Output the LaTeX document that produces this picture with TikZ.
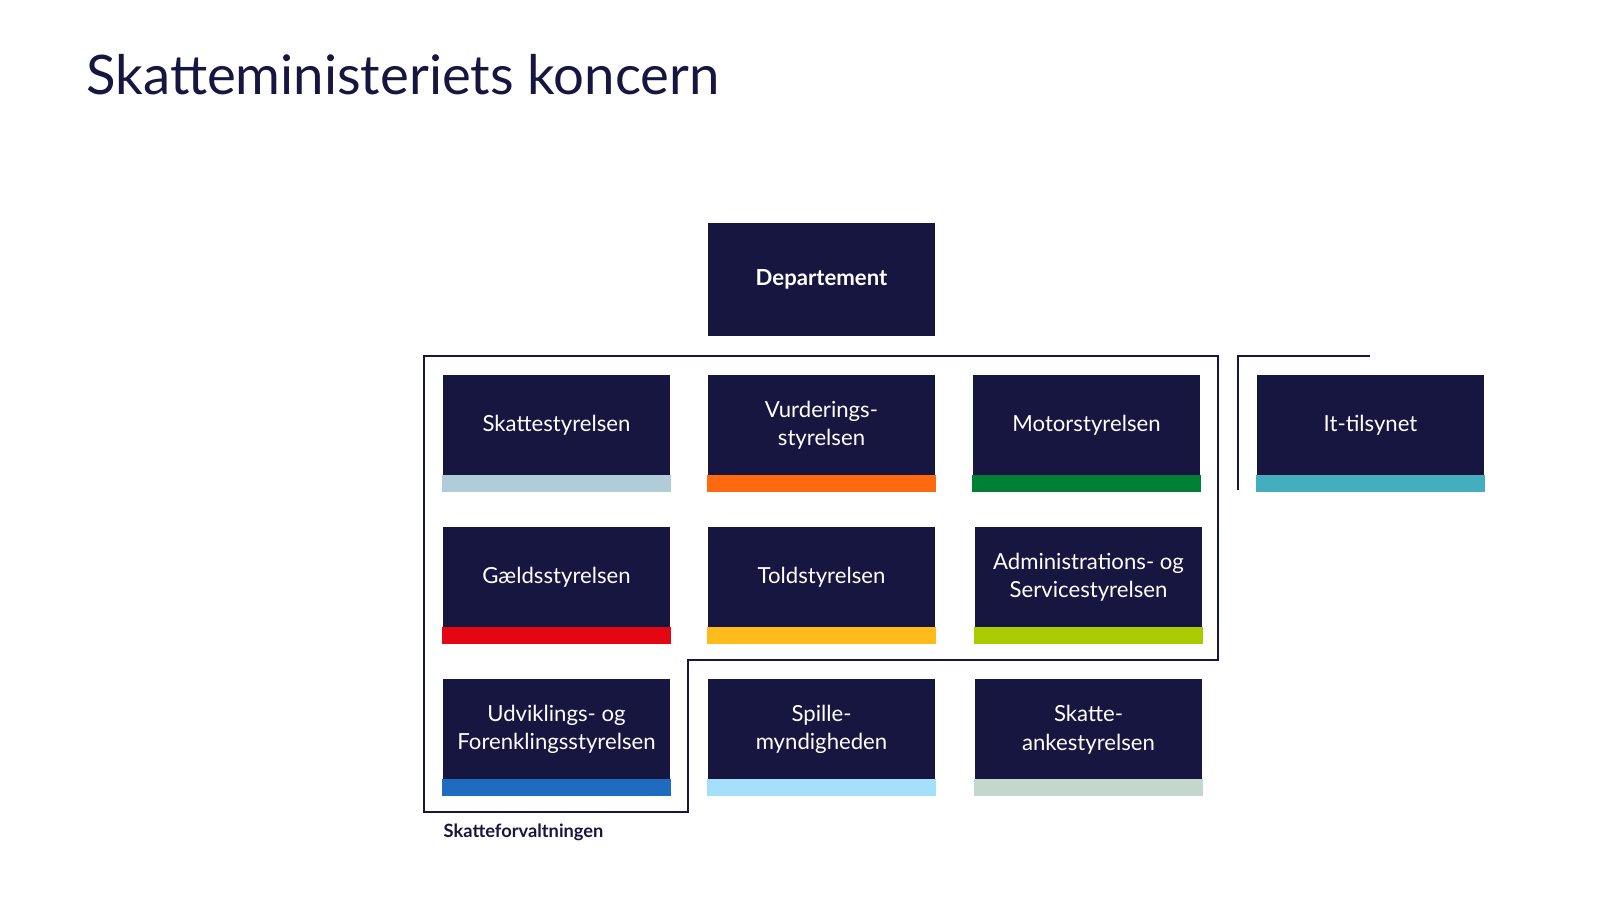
\documentclass[tikz,border=0pt]{standalone}
\usepackage{fontspec}
\setmainfont{Lato}
\usetikzlibrary{positioning}
\definecolor{navy}{HTML}{161640}
\definecolor{cSkat}{HTML}{B0CCD8}
\definecolor{cVur}{HTML}{FF6A10}
\definecolor{cMot}{HTML}{008037}
\definecolor{cGld}{HTML}{E30613}
\definecolor{cTold}{HTML}{FFBB1A}
\definecolor{cAdm}{HTML}{AACB00}
\definecolor{cUdv}{HTML}{1E6BC0}
\definecolor{cSpil}{HTML}{A5E0FA}
\definecolor{cAnk}{HTML}{C2D8CC}
\definecolor{cIt}{HTML}{44AEBE}
\tikzset{
  unit/.style={fill=navy, text=white, minimum width=2.27cm, minimum height=0.96cm,
    align=center, inner sep=0pt, font=\fontsize{6.3}{8.1}\selectfont},
  frame/.style={draw=navy, line width=0.6pt}
}
\begin{document}
\begin{tikzpicture}[x=0.01cm,y=-0.01cm]
\useasboundingbox (0,0) rectangle (1600,900);
\node[anchor=west, text=navy, font=\fontsize{15.5}{18}\selectfont] (title) at (74,75) {Skatteministeriets koncern};
% departement
\node[unit, minimum height=1.13cm, font=\bfseries\fontsize{6.3}{8.1}\selectfont] (dep) at (821.5,279.5) {Departement};
% styrelser
\foreach \name/\x/\y/\col/\txt in {
  skat/556.5/425/cSkat/{Skattestyrelsen},
  vur/821.5/425/cVur/{Vurderings-\\styrelsen},
  mot/1086.5/425/cMot/{Motorstyrelsen},
  it/1370.5/425/cIt/{It-tilsynet},
  gld/556.5/577/cGld/{Gældsstyrelsen},
  told/821.5/577/cTold/{Toldstyrelsen},
  adm/1088.5/577/cAdm/{Administrations- og\\Servicestyrelsen},
  udv/556.5/729.5/cUdv/{Udviklings- og\\Forenklingsstyrelsen},
  spil/821.5/729.5/cSpil/{Spille-\\myndigheden},
  ank/1088.5/729.5/cAnk/{Skatte-\\ankestyrelsen}}{
  \node[unit, minimum height=1.0cm] (\name) at (\x,\y) {\txt};
  \fill[\col] ([yshift=0.01cm]\name.south west) rectangle ([yshift=-0.16cm]\name.south east);
}
% skatteforvaltningen
\draw[frame] (424,356) -- (1218,356) -- (1218,660) -- (688,660) -- (688,812) -- (424,812) -- cycle;
\draw[frame] (1370,356) -- (1238,356) -- (1238,490);
\node[anchor=west, text=navy, font=\bfseries\fontsize{5.2}{6.5}\selectfont, inner sep=0pt] (sfv) at (443,832) {Skatteforvaltningen};
\end{tikzpicture}
\end{document}
